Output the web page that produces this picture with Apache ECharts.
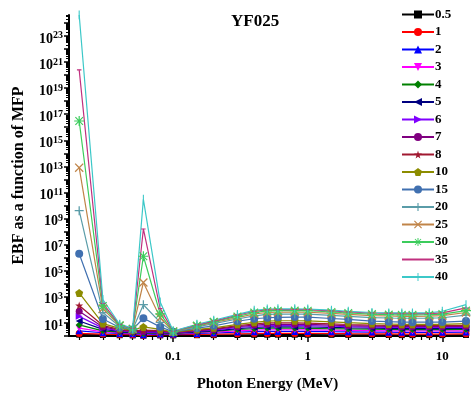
<!DOCTYPE html>
<html>
<head>
<meta charset="utf-8">
<script src="https://cdn.jsdelivr.net/npm/echarts@6.0.0/dist/echarts.min.js"></script>
<style>
    html, body { margin: 0; padding: 0; background: #fff; }
    #chart_ebf { width: 471px; height: 397px; }
</style>
</head>
<body>
<div id="chart_ebf"></div>
<script>
// photon energy (MeV)
let energy = [0.02, 0.03, 0.04, 0.05, 0.06, 0.08, 0.1, 0.15, 0.2, 0.3, 0.4, 0.5, 0.6, 0.8, 1, 1.5, 2, 3, 4, 5, 6, 8, 10, 15];
// penetration depth (mfp) names
let mfp = ["0.5", "1", "2", "3", "4", "5", "6", "7", "8", "10", "15", "20", "25", "30", "35", "40"];

// EBF values, one list per depth
let ebf_05 = [1.26, 1.2, 1.15, 1.12, 1.07, 1.12, 1.12, 1.15, 1.17, 1.2, 1.23, 1.26, 1.26, 1.26, 1.26, 1.23, 1.23, 1.2, 1.2, 1.17, 1.17, 1.17, 1.17, 1.2];
let ebf_1 = [1.58, 1.41, 1.32, 1.26, 1.12, 1.26, 1.26, 1.32, 1.38, 1.48, 1.55, 1.58, 1.58, 1.58, 1.58, 1.55, 1.51, 1.48, 1.45, 1.41, 1.41, 1.41, 1.41, 1.48];
let ebf_2 = [2.5, 1.78, 1.58, 1.48, 1.26, 1.41, 1.41, 1.58, 1.7, 2.0, 2.14, 2.24, 2.24, 2.24, 2.24, 2.14, 2.09, 2.0, 1.95, 1.91, 1.91, 1.91, 1.91, 2.0];
let ebf_3 = [4.0, 2.1, 1.78, 1.58, 1.41, 1.58, 1.51, 1.78, 2.0, 2.5, 2.8, 3.0, 3.0, 3.0, 2.95, 2.8, 2.7, 2.6, 2.5, 2.45, 2.45, 2.45, 2.45, 2.5];
let ebf_4 = [7.1, 2.5, 2.0, 1.74, 1.58, 1.74, 1.58, 2.0, 2.24, 3.16, 3.6, 4.0, 4.0, 4.0, 3.9, 3.6, 3.5, 3.3, 3.16, 3.1, 3.1, 3.1, 3.1, 3.16];
let ebf_5 = [14, 3.2, 2.24, 1.9, 1.78, 1.9, 1.66, 2.2, 2.5, 3.7, 4.5, 5.0, 5.0, 5.0, 4.9, 4.6, 4.3, 4.0, 3.8, 3.7, 3.7, 3.7, 3.7, 3.8];
let ebf_6 = [32, 4.0, 2.5, 2.1, 2.0, 2.1, 1.74, 2.4, 2.8, 4.5, 5.6, 6.3, 6.3, 6.3, 6.2, 5.6, 5.2, 4.8, 4.6, 4.5, 4.5, 4.5, 4.5, 4.6];
let ebf_7 = [80, 5.0, 2.8, 2.3, 2.24, 2.4, 1.82, 2.6, 3.2, 5.2, 6.9, 7.9, 7.9, 7.9, 7.8, 6.9, 6.3, 5.8, 5.5, 5.4, 5.4, 5.4, 5.4, 5.5];
let ebf_8 = [220, 6.3, 3.2, 2.5, 2.8, 2.6, 1.9, 2.8, 3.5, 6.3, 8.3, 10, 10, 10, 9.8, 8.5, 7.6, 6.9, 6.6, 6.3, 6.3, 6.3, 6.3, 6.6];
let ebf_10 = [2000, 8.9, 3.8, 2.8, 5.0, 3.2, 2.0, 3.2, 4.2, 7.9, 11.2, 14, 14.8, 14.8, 14.5, 12, 10.5, 8.9, 8.3, 7.9, 7.9, 7.9, 7.9, 8.9];
let ebf_15 = [2e6, 20, 4.5, 3.2, 23, 5.0, 2.1, 4.0, 6.0, 13.5, 21, 25, 27, 28, 27.5, 22, 18.6, 14, 12.6, 11.7, 11.5, 11.5, 11.7, 14];
let ebf_20 = [4e9, 63, 5.2, 3.3, 250, 11.2, 2.1, 5.0, 8.9, 20, 35, 45, 47, 48, 47, 38, 32, 26, 24, 23, 23, 23.4, 25, 40];
let ebf_25 = [8e12, 126, 6.0, 3.5, 1.26e4, 25, 2.2, 5.6, 11.2, 25, 50, 63, 66, 68, 66, 54, 45, 37, 34, 32, 32, 33, 36, 63];
let ebf_30 = [3e16, 200, 6.6, 3.7, 1.3e6, 50, 2.2, 6.3, 12.6, 32, 63, 83, 87, 89, 87, 69, 58, 48, 44, 42, 42, 43, 48, 89];
let ebf_35 = [2.5e20, 316, 7.2, 3.9, 1.6e8, 126, 2.3, 7.1, 14, 40, 79, 100, 105, 107, 105, 83, 69, 58, 54, 51, 51, 52, 60, 141];
let ebf_40 = [4e24, 630, 8, 4, 3e10, 400, 2.4, 8, 16, 45, 93, 117, 120, 120, 117, 95, 79, 63, 59, 59, 59, 60, 79, 251];

let ebf_all = [ebf_05, ebf_1, ebf_2, ebf_3, ebf_4, ebf_5, ebf_6, ebf_7, ebf_8, ebf_10, ebf_15, ebf_20, ebf_25, ebf_30, ebf_35, ebf_40];

// axis ticks / labels
let x_major = [0.1, 1, 10];
let x_minor = [0.02, 0.03, 0.04, 0.05, 0.06, 0.07, 0.08, 0.09, 0.2, 0.3, 0.4, 0.5, 0.6, 0.7, 0.8, 0.9, 2, 3, 4, 5, 6, 7, 8, 9];
let y_exp_ticks = [0, 1, 2, 3, 4, 5, 6, 7, 8, 9, 10, 11, 12, 13, 14, 15, 16, 17, 18, 19, 20, 21, 22, 23, 24];
let y_exp_labels = [1, 3, 5, 7, 9, 11, 13, 15, 17, 19, 21, 23];

let y_major = y_exp_ticks.map(e => Math.pow(10, e));
let y_labels = y_exp_labels.map(e => Math.pow(10, e));
let y_minor = [];
y_exp_ticks.forEach(e => {
    for (let k = 2; k <= 9; k++) {
        y_minor.push(k * Math.pow(10, e));
    }
});

// styles per series
let colors = ["#000000", "#ff0000", "#0000ff", "#ff00ff", "#008000", "#000080", "#8000ff", "#800080",
    "#a01830", "#8c8c00", "#4070b0", "#5a9ca8", "#c08448", "#3ccc5c", "#c0307f", "#3cc8c8"];
let symbols = [
    "rect", "circle", "triangle",
    "path://M0,0 L10,0 L5,10 Z",
    "diamond",
    "path://M0,5 L10,0 L10,10 Z",
    "path://M0,0 L10,5 L0,10 Z",
    "circle",
    "path://M50,0 L61,35 L98,35 L68,57 L79,91 L50,70 L21,91 L32,57 L2,35 L39,35 Z",
    "path://M50,0 L98,35 L79,91 L21,91 L2,35 Z",
    "circle",
    "path://M4.3,0 H5.7 V4.3 H10 V5.7 H5.7 V10 H4.3 V5.7 H0 V4.3 H4.3 Z",
    "path://M0,1 L1,0 L5,4 L9,0 L10,1 L6,5 L10,9 L9,10 L5,6 L1,10 L0,9 L4,5 Z",
    "path://M4.4,0 H5.6 V10 H4.4 Z M0,4.4 H10 V5.6 H0 Z M0.8,1.6 L1.6,0.8 L9.2,8.4 L8.4,9.2 Z M8.4,0.8 L9.2,1.6 L1.6,9.2 L0.8,8.4 Z",
    "path://M2.5,4.4 H7.5 V5.6 H2.5 Z M0,0 L0.01,0 Z M10,10 L9.99,10 Z",
    "path://M4.4,0 H5.6 V10 H4.4 Z M0,5 L0,5.01 Z M10,5 L10,5.01 Z"
];
let sizes = [6, 7, 7, 7, 7, 7, 7, 7, 8, 8, 8, 9, 9, 10, 9, 9];

let font = "'Liberation Serif', 'DejaVu Serif', serif";

let series = mfp.map((name, i) => ({
    name: name,
    type: "line",
    data: energy.map((e, j) => [e, ebf_all[i][j]]),
    xAxisIndex: 0,
    yAxisIndex: 0,
    symbol: symbols[i],
    symbolSize: sizes[i],
    showSymbol: true,
    color: colors[i],
    lineStyle: { width: 1.2, color: colors[i] },
    itemStyle: { color: colors[i] }
}));

let option_chart_ebf = {
    animation: false,
    backgroundColor: "#ffffff",
    textStyle: { fontFamily: font },
    title: {
        text: "YF025",
        left: 226,
        top: 8,
        textStyle: { fontFamily: font, fontWeight: "bold", fontSize: 17, color: "#000" }
    },
    legend: {
        orient: "vertical",
        left: 396,
        top: 3,
        itemGap: 4.5,
        itemWidth: 32,
        itemHeight: 10,
        data: mfp,
        textStyle: { fontFamily: font, fontWeight: "bold", fontSize: 13, color: "#000", padding: [0, 0, 0, -4] }
    },
    grid: { left: 69, right: 5, top: 15, bottom: 57 },
    xAxis: [
        {
            type: "log",
            min: 0.0168,
            max: 15,
            name: "Photon Energy (MeV)",
            nameLocation: "middle",
            nameGap: 41,
            nameTextStyle: { fontFamily: font, fontWeight: "bold", fontSize: 15, color: "#000" },
            axisLine: { show: true, lineStyle: { color: "#000", width: 2 } },
            axisTick: { show: true, customValues: x_major, length: 6, lineStyle: { color: "#000", width: 1.5 } },
            axisLabel: {
                customValues: x_major,
                margin: 14,
                fontFamily: font, fontWeight: "bold", fontSize: 13, color: "#000",
                formatter: v => String(v)
            },
            splitLine: { show: false }
        },
        {
            type: "log",
            min: 0.0168,
            max: 15,
            position: "bottom",
            axisLine: { show: false },
            axisTick: { show: true, customValues: x_minor, length: 4, lineStyle: { color: "#000", width: 1.2 } },
            axisLabel: { show: false },
            splitLine: { show: false }
        }
    ],
    yAxis: [
        {
            type: "log",
            min: 1,
            max: 4e24,
            name: "EBF as a function of MFP",
            nameLocation: "middle",
            nameGap: 42,
            nameTextStyle: { fontFamily: font, fontWeight: "bold", fontSize: 16, color: "#000" },
            axisLine: { show: true, lineStyle: { color: "#000", width: 2 } },
            axisTick: { show: true, customValues: y_major, length: 5, lineStyle: { color: "#000", width: 1.5 } },
            axisLabel: {
                customValues: y_labels,
                margin: 6,
                padding: [6, 0, 0, 0],
                formatter: v => "{b|10}{s|" + Math.round(Math.log10(v)) + "}",
                rich: {
                    b: { fontFamily: font, fontWeight: "bold", fontSize: 14, color: "#000", lineHeight: 16 },
                    s: { fontFamily: font, fontWeight: "bold", fontSize: 10, color: "#000", verticalAlign: "top", lineHeight: 10 }
                }
            },
            splitLine: { show: false }
        },
        {
            type: "log",
            min: 1,
            max: 4e24,
            position: "left",
            axisLine: { show: false },
            axisTick: { show: true, customValues: y_minor, length: 3, lineStyle: { color: "#000", width: 1 } },
            axisLabel: { show: false },
            splitLine: { show: false }
        }
    ],
    series: series
};

let chart_ebf = echarts.init(document.getElementById("chart_ebf"));
chart_ebf.setOption(option_chart_ebf);
</script>
</body>
</html>
